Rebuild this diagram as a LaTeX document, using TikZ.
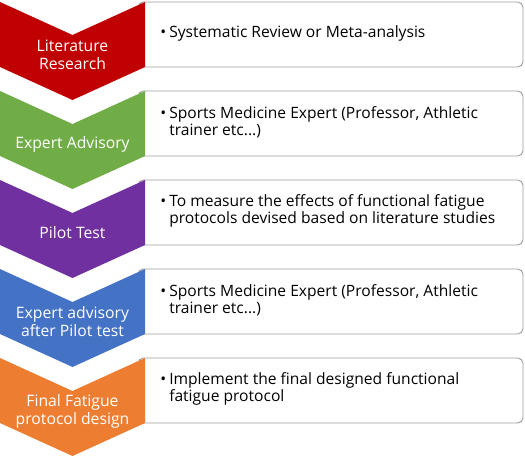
\documentclass[tikz,border=0pt]{standalone}
\usepackage{fontspec}
\setmainfont{Open Sans}
\usetikzlibrary{positioning}

\definecolor{stepred}{HTML}{C00000}
\definecolor{stepgreen}{HTML}{70AD47}
\definecolor{steppurple}{HTML}{7030A0}
\definecolor{stepblue}{HTML}{4472C4}
\definecolor{steporange}{HTML}{ED7D31}

\newcommand{\bulletline}[1]{\parbox{290pt}{\hangindent=6.75pt\hangafter=1\noindent\makebox[6.75pt][l]{\textbullet}#1}}

\tikzset{
  steplabel/.style={text=white, align=center, font=\fontsize{11.8}{13.5}\selectfont},
  infobox/.style={draw=black!38, fill=white, line width=0.7pt, rounded corners=4pt},
  infotext/.style={anchor=west, inner sep=0pt, font=\fontsize{11.7}{12.75}\selectfont}
}

\begin{document}
\begin{tikzpicture}[x=0.75pt, y=-0.75pt]
  \useasboundingbox (0,0) rectangle (525,460);
  % one row per step: chevron on the left, bullet box on the right
  \foreach \i/\col/\lbl/\txt in {
    0/stepred/{Literature\\Research}/{Systematic Review or Meta-analysis},
    1/stepgreen/{Expert Advisory}/{Sports Medicine Expert (Professor, Athletic\\trainer etc...)},
    2/steppurple/{Pilot Test}/{To measure the effects of functional fatigue\\protocols devised based on literature studies},
    3/stepblue/{Expert advisory\\after Pilot test}/{Sports Medicine Expert (Professor, Athletic\\trainer etc...)},
    4/steporange/{Final Fatigue\\protocol design}/{Implement the final designed functional\\fatigue protocol}
  }{
    \pgfmathsetmacro\T{2+89*\i}
    \draw[infobox] (138,\T) rectangle (523,\T+65);
    \fill[\col] (0,\T) -- (72.5,\T+33) -- (145,\T) -- (145,\T+65) -- (72.5,\T+98) -- (0,\T+65) -- cycle;
    \node[steplabel] (step\i) at (72.5,\T+53) {\lbl};
    \node[infotext] (info\i) at (160,\T+31) {\bulletline{\txt}};
  }
\end{tikzpicture}
\end{document}
